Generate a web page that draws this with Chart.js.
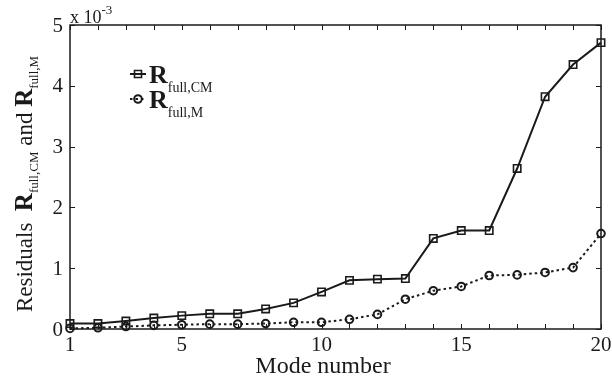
<!DOCTYPE html>
<html>
<head>
<meta charset="utf-8">
<script src="https://cdn.jsdelivr.net/npm/chart.js@4/dist/chart.umd.min.js"></script>
<style>
    html, body { margin: 0; padding: 0; background: #fff; }
    #chart_canvas { display: block; }
</style>
</head>
<body>
<canvas id="chart_canvas" width="612" height="381"></canvas>
<script>
// Chart data (residuals in units of 1e-3)
var modeNumbers = [1, 2, 3, 4, 5, 6, 7, 8, 9, 10, 11, 12, 13, 14, 15, 16, 17, 18, 19, 20];
var residualsCM = [0.09, 0.09, 0.13, 0.18, 0.22, 0.25, 0.25, 0.33, 0.43, 0.61, 0.80, 0.82, 0.83, 1.49, 1.62, 1.62, 2.64, 3.82, 4.35, 4.71];
var residualsM = [0.01, 0.02, 0.04, 0.06, 0.07, 0.08, 0.08, 0.09, 0.11, 0.11, 0.16, 0.24, 0.49, 0.63, 0.70, 0.88, 0.89, 0.93, 1.01, 1.57];
var xTickLabels = [1, 5, 10, 15, 20];
var yTickLabels = [0, 1, 2, 3, 4, 5];

var INK = '#1a1a1a';
var SERIF = '"Liberation Serif", "DejaVu Serif", serif';

function toPoints(values) {
    return modeNumbers.map(function (m, i) { return { x: m, y: values[i] }; });
}

// Draw a run of text pieces (normal / bold / subscript) from a start point
function pieceWidth(ctx, pieces) {
    var w = 0;
    pieces.forEach(function (p) { ctx.font = p.font; w += ctx.measureText(p.text).width; });
    return w;
}
function drawPieces(ctx, pieces, x, y) {
    pieces.forEach(function (p) {
        ctx.font = p.font;
        ctx.fillText(p.text, x, y + (p.dy || 0));
        x += ctx.measureText(p.text).width;
    });
}

// Frame, inward ticks, tick labels, legend and titles in MATLAB style
var matlabDecor = {
    id: 'matlabDecor',
    afterDraw: function (chart) {
        var ctx = chart.ctx;
        var a = chart.chartArea;
        var xs = chart.scales.x, ys = chart.scales.y;
        var tick = 5;

        ctx.save();
        ctx.strokeStyle = INK;
        ctx.lineWidth = 1.5;
        ctx.strokeRect(a.left, a.top, a.right - a.left, a.bottom - a.top);

        ctx.lineWidth = 1;
        ctx.beginPath();
        modeNumbers.forEach(function (m) {
            var px = Math.round(xs.getPixelForValue(m)) + 0.5;
            ctx.moveTo(px, a.bottom); ctx.lineTo(px, a.bottom - tick);
            ctx.moveTo(px, a.top); ctx.lineTo(px, a.top + tick);
        });
        yTickLabels.forEach(function (v) {
            var py = Math.round(ys.getPixelForValue(v)) + 0.5;
            ctx.moveTo(a.left, py); ctx.lineTo(a.left + tick, py);
            ctx.moveTo(a.right, py); ctx.lineTo(a.right - tick, py);
        });
        ctx.stroke();

        ctx.fillStyle = INK;

        // tick labels
        ctx.font = '21px ' + SERIF;
        ctx.textAlign = 'center';
        ctx.textBaseline = 'alphabetic';
        xTickLabels.forEach(function (v) {
            ctx.fillText(String(v), xs.getPixelForValue(v), a.bottom + 22);
        });
        ctx.textAlign = 'right';
        ctx.textBaseline = 'middle';
        yTickLabels.forEach(function (v) {
            ctx.fillText(String(v), a.left - 7, ys.getPixelForValue(v) + 1);
        });

        ctx.textBaseline = 'alphabetic';
        ctx.textAlign = 'left';

        // exponent note
        drawPieces(ctx, [
            { text: 'x 10', font: '18px ' + SERIF },
            { text: '-3', font: '13px ' + SERIF, dy: -9 }
        ], 70, 23);

        // legend
        var rows = [
            { y: 74, sub: 'full,CM', style: 'rect', dash: [] },
            { y: 99, sub: 'full,M', style: 'circle', dash: [2.5, 3] }
        ];
        rows.forEach(function (r) {
            ctx.lineWidth = 2;
            ctx.setLineDash(r.dash);
            ctx.beginPath();
            ctx.moveTo(130, r.y); ctx.lineTo(146, r.y);
            ctx.stroke();
            ctx.setLineDash([]);
            ctx.lineWidth = r.style === 'rect' ? 1.6 : 2;
            ctx.beginPath();
            if (r.style === 'rect') ctx.rect(134.5, r.y - 3.5, 7, 7);
            else ctx.arc(138, r.y, 3.8, 0, Math.PI * 2);
            ctx.stroke();
            drawPieces(ctx, [
                { text: 'R', font: 'bold 26px ' + SERIF },
                { text: r.sub, font: '14px ' + SERIF, dy: 9 }
            ], 149, r.y + 9);
        });

        // x axis title
        ctx.font = '24px ' + SERIF;
        ctx.textAlign = 'center';
        ctx.fillText('Mode number', 323, 373);

        // y axis title, rotated
        ctx.textAlign = 'left';
        var title = [
            { text: 'Residuals  ', font: '23px ' + SERIF },
            { text: 'R', font: 'bold 25px ' + SERIF },
            { text: 'full,CM', font: '13px ' + SERIF, dy: 6 },
            { text: ' and ', font: '23px ' + SERIF },
            { text: 'R', font: 'bold 25px ' + SERIF },
            { text: 'full,M', font: '13px ' + SERIF, dy: 6 }
        ];
        var w = pieceWidth(ctx, title);
        ctx.translate(32, 184);
        ctx.rotate(-Math.PI / 2);
        drawPieces(ctx, title, -w / 2, 0);
        ctx.restore();
    }
};

(function () {
    var context = document.getElementById('chart_canvas').getContext('2d');

    new Chart(context, {
        type: 'line',
        data: {
            datasets: [{
                label: 'R full,CM',
                data: toPoints(residualsCM),
                borderColor: INK,
                borderWidth: 2,
                pointStyle: 'rect',
                pointRadius: 5.2,
                pointBorderWidth: 1.6,
                pointBorderColor: INK,
                pointBackgroundColor: 'rgba(0,0,0,0)',
                tension: 0,
                clip: false
            }, {
                label: 'R full,M',
                data: toPoints(residualsM),
                borderColor: INK,
                borderWidth: 2,
                borderDash: [2.5, 3],
                pointStyle: 'circle',
                pointRadius: 3.8,
                pointBorderWidth: 2,
                pointBorderColor: INK,
                pointBackgroundColor: 'rgba(0,0,0,0)',
                tension: 0,
                clip: false
            }]
        },
        options: {
            responsive: false,
            animation: false,
            devicePixelRatio: 1,
            layout: { padding: { top: 25, right: 11, left: 0, bottom: 0 } },
            plugins: { legend: { display: false }, tooltip: { enabled: false } },
            scales: {
                // labels are painted by the decor plugin, the scales only map values
                x: {
                    type: 'linear',
                    min: 1,
                    max: 20,
                    grid: { display: false },
                    border: { display: false },
                    ticks: { display: false, stepSize: 1 },
                    afterFit: function (scale) { scale.height = 52; }
                },
                y: {
                    min: 0,
                    max: 5,
                    grid: { display: false },
                    border: { display: false },
                    ticks: { display: false, stepSize: 1 },
                    afterFit: function (scale) { scale.width = 70; }
                }
            }
        },
        plugins: [matlabDecor]
    });
})();
</script>
</body>
</html>
